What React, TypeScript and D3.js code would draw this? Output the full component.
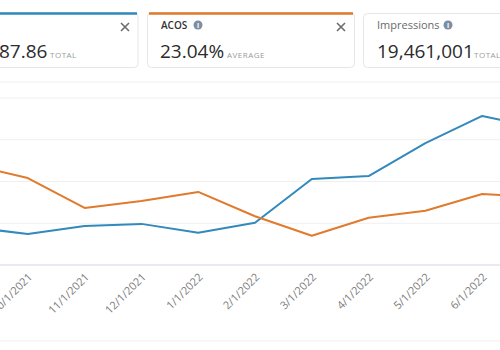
import { useRef, useEffect, useMemo } from 'react';
import * as d3 from 'd3';

const months = [
  '9/1/2021', '10/1/2021', '11/1/2021', '12/1/2021', '1/1/2022', '2/1/2022',
  '3/1/2022', '4/1/2022', '5/1/2022', '6/1/2022', '7/1/2022',
];
// spend ($) per month, left axis
const spend = [910, 740, 935, 985, 775, 1010, 2060, 2130, 2920, 3570, 3280];
// ACOS (%) per month, right axis
const acos = [23.2, 22.25, 20.1, 20.6, 21.25, 19.5, 18.1, 19.4, 19.9, 21.1, 20.9];
const spendTicks = [0, 1000, 2000, 3000, 4000];

const BLUE = '#3289bb';
const ORANGE = '#e07a2c';
const FONT = '"Open Sans", "Noto Sans", sans-serif';

const InfoIcon = ({ x, y }: { x: number; y: number }) => (
  <g transform={`translate(${x},${y})`}>
    <circle r={4.5} fill="#7d8ea3" />
    <text y={3} textAnchor="middle" fontSize={7} fontWeight={700} fill="#fff" fontFamily={FONT}>i</text>
  </g>
);

const Close = ({ x, y }: { x: number; y: number }) => (
  <path
    d={`M${x - 4},${y - 4}L${x + 4},${y + 4}M${x + 4},${y - 4}L${x - 4},${y + 4}`}
    stroke="#6b6b6b"
    strokeWidth={1.6}
  />
);

export default function App() {
  const gx = useRef<SVGGElement>(null);
  const width = 500;
  const height = 350;
  const plotTop = 98;
  const plotBottom = 265;

  const x = useMemo(() => d3.scalePoint<string>().domain(months).range([-29, 539]), []);
  const ySpend = useMemo(() => d3.scaleLinear().domain([0, 4000]).range([plotBottom, plotTop]), []);
  const yAcos = useMemo(() => d3.scaleLinear().domain([16, 28]).range([plotBottom, plotTop]), []);

  const spendLine = d3
    .line<number>()
    .x((_, i) => x(months[i])!)
    .y((d) => ySpend(d));
  const acosLine = d3
    .line<number>()
    .x((_, i) => x(months[i])!)
    .y((d) => yAcos(d));

  useEffect(() => {
    const el = gx.current;
    if (el) {
      const g = d3.select(el);
      g.call(d3.axisBottom(x).tickSize(0).tickPadding(0));
      g.select('.domain').remove();
      g.selectAll<SVGTextElement, string>('.tick text')
        .attr('font-family', FONT)
        .attr('font-size', 11)
        .attr('fill', '#7c7c7c')
        .attr('text-anchor', 'end')
        .attr('dy', '0.35em')
        .attr('y', 0)
        .attr('transform', 'translate(2,10) rotate(-45)');
    }
    return () => {
      d3.select(el).selectAll('*').remove();
    };
  }, [x]);

  return (
    <div style={{ position: 'absolute', left: 0, top: 0 }}>
      <svg width={width} height={height} style={{ display: 'block', background: '#fff' }}>
        <title>Spend and ACOS by month</title>
        {/* metric cards */}
        <rect x={-10} y={12.5} width={148} height={55} rx={4} fill="#fff" stroke="#e6e6e6" />
        <path d="M-10,13.5H137" stroke={BLUE} strokeWidth={2.5} fill="none" />
        <Close x={125} y={27} />
        <text x={-1} y={58} fontSize={19} fill="#2b2b2b" fontFamily={FONT}>87.86</text>
        <text x={50} y={58} fontSize={8} fill="#9a9a9a" letterSpacing={0.5} fontFamily={FONT}>TOTAL</text>

        <rect x={147.5} y={12.5} width={207} height={55} rx={4} fill="#fff" stroke="#e6e6e6" />
        <path d="M149,13.5H353" stroke={ORANGE} strokeWidth={2.5} fill="none" />
        <text x={161} y={29} fontSize={10} fontWeight={600} fill="#333" fontFamily={FONT}>ACOS</text>
        <InfoIcon x={198} y={25} />
        <Close x={341} y={27} />
        <text x={160} y={58} fontSize={19} fill="#2b2b2b" fontFamily={FONT}>23.04%</text>
        <text x={227} y={58} fontSize={8} fill="#9a9a9a" letterSpacing={0.5} fontFamily={FONT}>AVERAGE</text>

        <rect x={363.5} y={13.5} width={160} height={54} rx={4} fill="#fff" stroke="#e6e6e6" />
        <text x={377} y={29} fontSize={11} fill="#6a6a6a" fontFamily={FONT}>Impressions</text>
        <InfoIcon x={448} y={25} />
        <text x={377} y={58} fontSize={19} fill="#2b2b2b" fontFamily={FONT}>19,461,001</text>
        <text x={474} y={58} fontSize={8} fill="#9a9a9a" letterSpacing={0.5} fontFamily={FONT}>TOTAL</text>

        {/* chart container */}
        <line x1={0} x2={width} y1={82} y2={82} stroke="#efefef" />
        {spendTicks.slice(1).map((t) => (
          <line key={t} x1={0} x2={width} y1={ySpend(t)} y2={ySpend(t)} stroke="#efefef" />
        ))}
        <line x1={0} x2={width} y1={ySpend(0)} y2={ySpend(0)} stroke="#e2e2ea" strokeWidth={1.5} />
        <line x1={0} x2={width} y1={341} y2={341} stroke="#efefef" />

        <path d={spendLine(spend)!} fill="none" stroke={BLUE} strokeWidth={2} strokeLinejoin="round" />
        <path d={acosLine(acos)!} fill="none" stroke={ORANGE} strokeWidth={2} strokeLinejoin="round" />

        <g ref={gx} transform={`translate(0,${plotBottom})`} />
      </svg>
    </div>
  );
}
